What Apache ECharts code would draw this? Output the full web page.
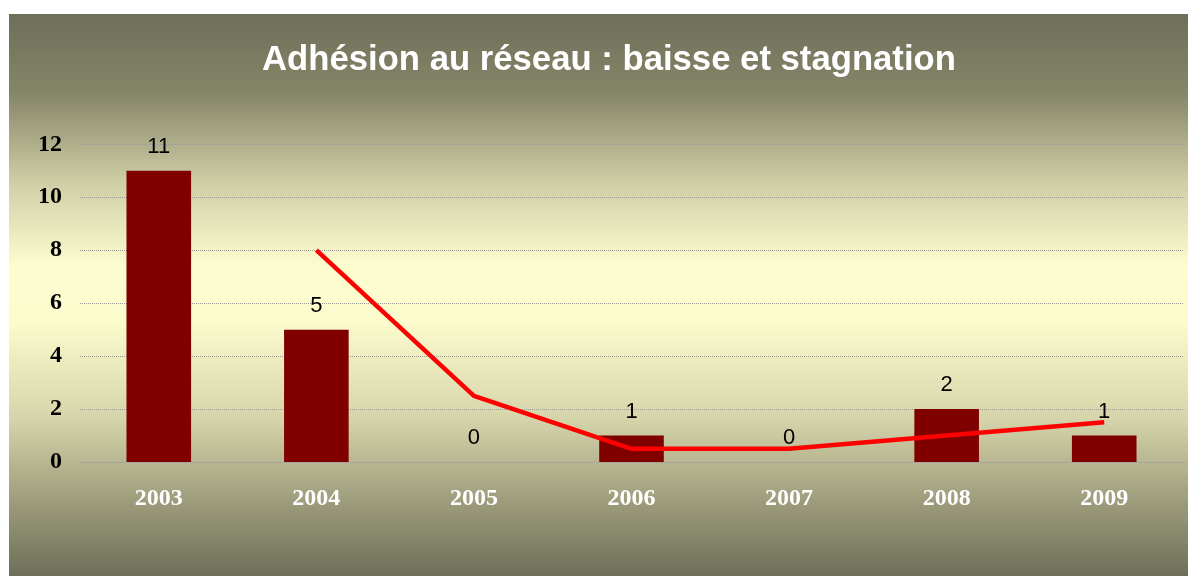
<!DOCTYPE html>
<html><head><meta charset="utf-8">
<script src="https://cdn.jsdelivr.net/npm/echarts@6/dist/echarts.min.js"></script>
<style>
html,body{margin:0;padding:0;background:#fff;width:1188px;height:576px;overflow:hidden}
#c{position:absolute;left:9px;top:14px;width:1179px;height:562px}
</style></head><body>
<div id="c"></div>
<script>
const titleText = 'Adhésion au réseau : baisse et stagnation';
const years = ['2003','2004','2005','2006','2007','2008','2009'];
const adhesions = [11, 5, 0, 1, 0, 2, 1];
const trend = [null, 8, 2.5, 0.5, 0.5, 1, 1.5];
const yTicks = [0, 2, 4, 6, 8, 10, 12];

const chart = echarts.init(document.getElementById('c'));
chart.setOption({
  animation: false,
  backgroundColor: {
    type: 'linear', x: 0, y: 0, x2: 0, y2: 1,
    colorStops: [
      {offset: 0, color: '#6e6f59'},
      {offset: 0.14, color: '#858568'},
      {offset: 0.3, color: '#d0cea6'},
      {offset: 0.45, color: '#fdfdd0'},
      {offset: 0.55, color: '#fbfbcc'},
      {offset: 0.72, color: '#d6d4aa'},
      {offset: 0.87, color: '#9c9b7b'},
      {offset: 1, color: '#6e6f59'}
    ]
  },
  title: {
    text: titleText, left: 248, top: 24,
    textStyle: {color: '#fff', fontFamily: 'Liberation Sans, Arial', fontWeight: 'bold', fontSize: 34.7}
  },
  grid: {left: 71, right: 5, top: 130.3, bottom: 114},
  xAxis: {
    type: 'category', data: years,
    axisLine: {show: false}, axisTick: {show: false},
    axisLabel: {color: '#fff', fontFamily: 'Liberation Serif, Times New Roman', fontWeight: 'bold', fontSize: 24, margin: 25}
  },
  yAxis: {
    type: 'value', min: 0, max: 12, interval: 2,
    axisLine: {show: false}, axisTick: {show: false},
    axisLabel: {color: '#000', fontFamily: 'Liberation Serif, Times New Roman', fontWeight: 'bold', fontSize: 24, margin: 18,
      formatter: v => yTicks.includes(v) ? String(v) : ''},
    splitLine: {lineStyle: {color: '#9a9a92', type: 'dotted', width: 1}}
  },
  series: [
    {
      type: 'bar', data: adhesions, barWidth: '41%',
      itemStyle: {color: '#800000'},
      label: {show: true, position: 'top', distance: 13, color: '#000', fontFamily: 'Liberation Sans, Arial', fontSize: 22}
    },
    {
      type: 'line', data: trend, showSymbol: false, symbol: 'none',
      lineStyle: {color: '#ff0000', width: 4.5}, z: 5
    }
  ]
});
</script></body></html>
